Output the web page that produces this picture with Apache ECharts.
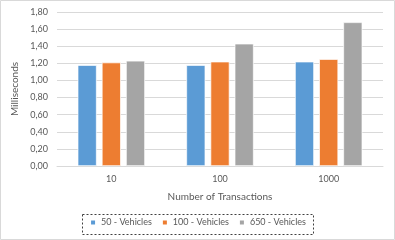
<!DOCTYPE html>
<html><head><meta charset="utf-8">
<script src="https://cdn.jsdelivr.net/npm/echarts@6/dist/echarts.min.js"></script>
<style>html,body{margin:0;padding:0;background:#fff}#c{width:395px;height:240px}</style>
</head><body><div id="c"></div>
<script>
const categories = ['10', '100', '1000'];
const seriesNames = ['50 - Vehicles', '100 - Vehicles', '650 - Vehicles'];
const v50 = [1.18, 1.18, 1.22];
const v100 = [1.21, 1.22, 1.25];
const v650 = [1.23, 1.43, 1.68];
const colors = ['#5B9BD5', '#ED7D31', '#A5A5A5'];
const font = 'Lato, "Open Sans", sans-serif';
const chart = echarts.init(document.getElementById('c'), null, {renderer: 'canvas'});
const vals = [v50, v100, v650];
chart.setOption({
  animation: false,
  textStyle: {fontFamily: font},
  grid: {left: 57, right: 12, top: 12, bottom: 74},
  legend: {
    top: 218, left: 'center', itemWidth: 6, itemHeight: 6, itemGap: 9,
    icon: 'rect', padding: 0,
    textStyle: {fontFamily: font, fontSize: 9, color: '#595959'},
    data: seriesNames
  },
  graphic: [
    {type: 'rect', shape: {x: 0.5, y: 0.5, width: 394, height: 239}, style: {fill: 'none', stroke: '#d9d9d9', lineWidth: 1}, silent: true},
    {type: 'rect', shape: {x: 82.5, y: 214.5, width: 231, height: 20}, style: {fill: 'none', stroke: '#404040', lineWidth: 1, lineDash: [2, 2]}, silent: true}
  ],
  xAxis: {
    type: 'category', data: categories,
    name: 'Number of Transactions', nameLocation: 'middle', nameGap: 26,
    nameTextStyle: {fontFamily: font, fontSize: 10, color: '#595959'},
    axisLine: {lineStyle: {color: '#d9d9d9'}},
    axisTick: {show: false},
    axisLabel: {fontFamily: font, fontSize: 9, color: '#595959', margin: 9}
  },
  yAxis: {
    type: 'value', min: 0, max: 1.8, interval: 0.2,
    name: 'Milliseconds', nameLocation: 'middle', nameGap: 27,
    nameTextStyle: {fontFamily: font, fontSize: 10, color: '#595959'},
    axisLine: {show: false}, axisTick: {show: false},
    splitLine: {lineStyle: {color: '#d9d9d9'}},
    axisLabel: {fontFamily: font, fontSize: 9, color: '#595959', margin: 9,
      formatter: v => v.toFixed(2).replace('.', ',')}
  },
  series: seriesNames.map((n, i) => ({
    name: n, type: 'bar', data: vals[i],
    barGap: '27%', barCategoryGap: '38%',
    itemStyle: {color: colors[i], borderColor: '#fff', borderWidth: 0.7}
  }))
});
</script></body></html>
